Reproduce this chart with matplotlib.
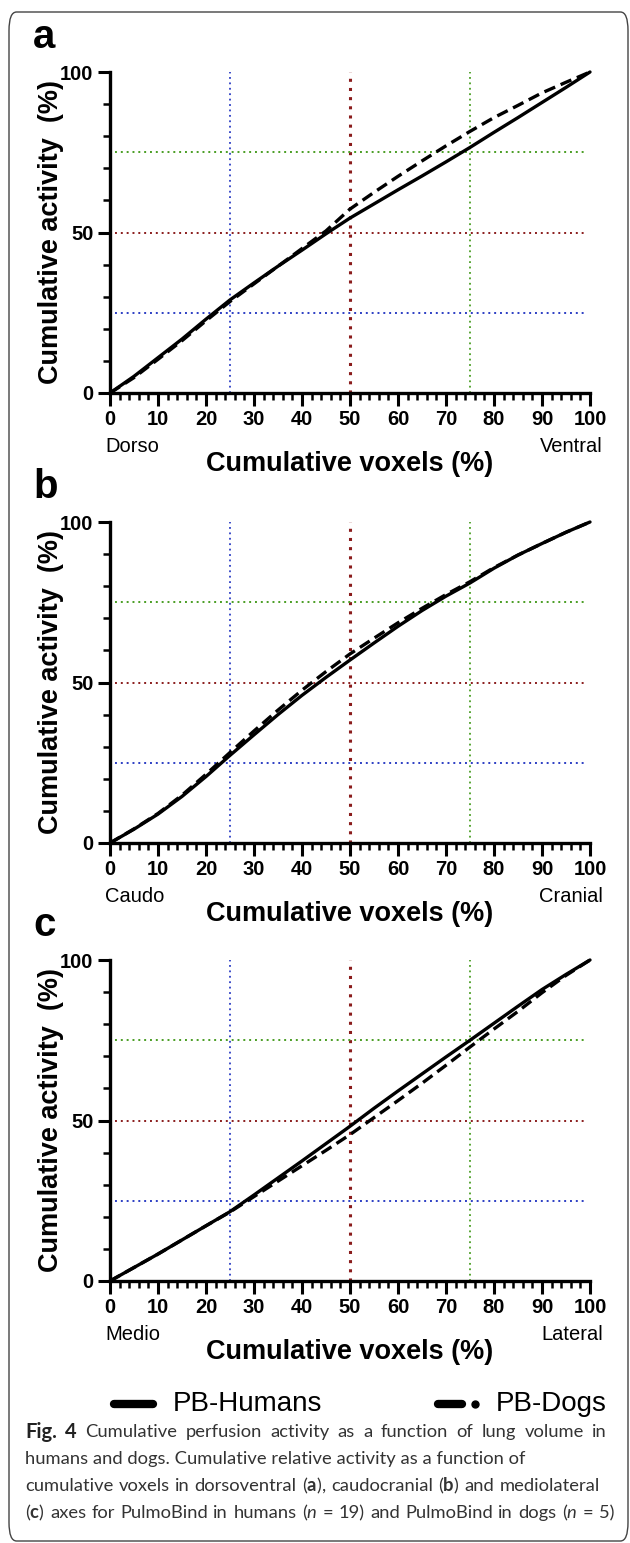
import matplotlib
matplotlib.use("Agg")
import matplotlib.pyplot as plt
import numpy as np
from matplotlib.lines import Line2D
from matplotlib.patches import FancyBboxPatch
from matplotlib.ticker import MultipleLocator

W, H = 630, 1543

# -----------------------------
# Data
# -----------------------------
voxels = np.arange(0, 101, 5)

humans_a = [0, 5.2, 11, 16.8, 23, 29, 34.3, 39.5, 44.5, 49.6, 54.5, 58.9, 63.3, 67.6, 72, 76.5,
            81.2, 85.8, 90.5, 95.2, 100]
dogs_a = [0, 4.8, 10.5, 16.3, 22.5, 28.5, 34, 39.5, 45, 50.5, 57.3, 62.5, 67.5, 72.3, 77, 81.5,
          85.8, 89.6, 93.5, 96.8, 100]

humans_b = [0, 4.3, 9, 14.5, 20.7, 27.3, 33.7, 40, 46, 51.6, 57, 62.3, 67.5, 72.4, 76.9, 81,
            85.6, 89.7, 93.3, 96.8, 100]
dogs_b = [0, 4.4, 9.2, 14.9, 21.4, 28.2, 34.9, 41.4, 47.6, 53.4, 58.9, 63.8, 68.6, 73.1, 77.4, 81.4,
          85.8, 89.7, 93.3, 96.8, 100]

humans_c = [0, 4.2, 8.4, 12.8, 17.2, 21.6, 26.8, 32.1, 37.4, 42.8, 48.2, 53.8, 59.2, 64.5, 69.8, 75,
            80.3, 85.6, 90.8, 95.5, 100]
dogs_c = [0, 4.2, 8.4, 12.8, 17.2, 21.5, 26.3, 31.1, 35.9, 40.7, 45.6, 50.9, 56.2, 61.6, 67.2, 72.9,
          78.5, 84, 89.8, 95.2, 100]

panel_letters = ["a", "b", "c"]
left_ends = ["Dorso", "Caudo", "Medio"]
right_ends = ["Ventral", "Cranial", "Lateral"]
series_labels = ["PB-Humans", "PB-Dogs"]
ref_levels = [25, 50, 75]
ref_colors = ["#2c3ec4", "#8a1c1c", "#4a9e24"]

caption_lines = [
    "Fig. 4 Cumulative perfusion activity as a function of lung volume in",
    "humans and dogs. Cumulative relative activity as a function of",
    r"cumulative voxels in dorsoventral ($\mathbf{a}$), caudocranial ($\mathbf{b}$) and mediolateral",
    r"($\mathbf{c}$) axes for PulmoBind in humans ($\mathit{n}$ = 19) and PulmoBind in dogs ($\mathit{n}$ = 5)",
]

plt.rcParams["font.family"] = ["Liberation Sans", "DejaVu Sans"]
plt.rcParams["mathtext.fontset"] = "custom"
plt.rcParams["mathtext.rm"] = "Lato"
plt.rcParams["mathtext.bf"] = "Lato:bold"
plt.rcParams["mathtext.it"] = "Lato:italic"


def fx(x):
    return x / W


def fy(y):
    return 1 - y / H


fig = plt.figure(figsize=(W / 100, H / 100), dpi=100)

# rounded frame around the whole figure
frame = FancyBboxPatch((fx(9), fy(1541)), fx(628) - fx(9), fy(12) - fy(1541),
                       boxstyle="round,pad=0,rounding_size=0.012", transform=fig.transFigure,
                       facecolor="none", edgecolor="#444444", linewidth=1.0)
fig.add_artist(frame)

tops = [72, 522, 960]
ax_left, ax_right, ax_h = 110, 590, 321
panels = [(humans_a, dogs_a), (humans_b, dogs_b), (humans_c, dogs_c)]

for i, (hum, dog) in enumerate(panels):
    top = tops[i]
    ax = fig.add_axes([fx(ax_left), fy(top + ax_h), (ax_right - ax_left) / W, ax_h / H])
    ax.set_xlim(0, 100)
    ax.set_ylim(0, 100)

    # dotted quartile guides
    for lvl, col in zip(ref_levels, ref_colors):
        lw_v = 2.2 if lvl == 50 else 1.3
        ax.axvline(lvl, color=col, linestyle=(0, (1, 2)), linewidth=lw_v, zorder=1)
        ax.plot([1, 99], [lvl, lvl], color=col, linestyle=(0, (1, 2)), linewidth=1.4, zorder=1)

    ax.plot(voxels, hum, color="black", linewidth=2.4, solid_capstyle="round", clip_on=False, zorder=3)
    ax.plot(voxels, dog, color="black", linewidth=2.4, dashes=(3.5, 1.8), clip_on=False, zorder=3)

    for side in ["top", "right"]:
        ax.spines[side].set_visible(False)
    for side in ["left", "bottom"]:
        ax.spines[side].set_linewidth(2.4)

    ax.xaxis.set_major_locator(MultipleLocator(10))
    ax.xaxis.set_minor_locator(MultipleLocator(2))
    ax.yaxis.set_major_locator(MultipleLocator(50))
    ax.yaxis.set_minor_locator(MultipleLocator(10))
    ax.tick_params(which="major", length=9, width=2.2, labelsize=14.5, pad=3)
    ax.tick_params(which="minor", length=5, width=1.8)
    for lab in ax.get_xticklabels() + ax.get_yticklabels():
        lab.set_fontweight("bold")

    ax.set_ylabel("Cumulative activity  (%)", fontsize=19.5, fontweight="bold")
    ax.yaxis.set_label_coords((64 - ax_left) / (ax_right - ax_left), 0.5)

    fig.text(fx(33), fy(top - 35), panel_letters[i], fontsize=29, fontweight="bold",
             ha="left", va="center")
    fig.text(fx(105), fy(top + ax_h + 53), left_ends[i], fontsize=14.5, ha="left", va="center")
    fig.text(fx(603), fy(top + ax_h + 53), right_ends[i], fontsize=14.5, ha="right", va="center")
    fig.text(fx(350), fy(top + ax_h + 71), "Cumulative voxels (%)", fontsize=19.5,
             fontweight="bold", ha="center", va="center")

# legend drawn below the panels
leg_y = 1404
fig.add_artist(Line2D([fx(114), fx(153)], [fy(leg_y), fy(leg_y)], transform=fig.transFigure,
                      color="black", linewidth=6, solid_capstyle="round"))
fig.text(fx(173), fy(leg_y), series_labels[0], fontsize=20, ha="left", va="center")
fig.add_artist(Line2D([fx(438), fx(462)], [fy(leg_y), fy(leg_y)], transform=fig.transFigure,
                      color="black", linewidth=6, solid_capstyle="round"))
fig.add_artist(Line2D([fx(475)], [fy(leg_y)], transform=fig.transFigure, color="black",
                      marker="o", markersize=5, linestyle="none"))
fig.text(fx(496), fy(leg_y), series_labels[1], fontsize=20, ha="left", va="center")

# caption, justified like the journal layout (None = ragged right)
cap_y = [1432, 1459, 1486, 1513]
cap_right = [607, None, 600, 614]
cap_style = dict(fontsize=13.2, family="Lato", color="#333333", ha="left", va="center")
renderer = fig.canvas.get_renderer()
for k, (line, y, right) in enumerate(zip(caption_lines, cap_y, cap_right)):
    if right is None:
        fig.text(fx(25), fy(y), line, **cap_style)
        continue
    words = line.split(" ")
    texts = []
    for j, w in enumerate(words):
        t = fig.text(0, fy(y), w, **cap_style)
        if k == 0 and j < 2:
            # "Fig. 4" label is bold and slightly larger
            t.set_fontweight("bold")
            t.set_fontsize(14.5)
            t.set_color("#222222")
        texts.append(t)
    widths = [t.get_window_extent(renderer).width for t in texts]
    gap = (right - 25 - sum(widths)) / (len(words) - 1)
    x = 25
    for t, w in zip(texts, widths):
        t.set_x(fx(x))
        x += w + gap

fig.savefig("out.png", dpi=100)
